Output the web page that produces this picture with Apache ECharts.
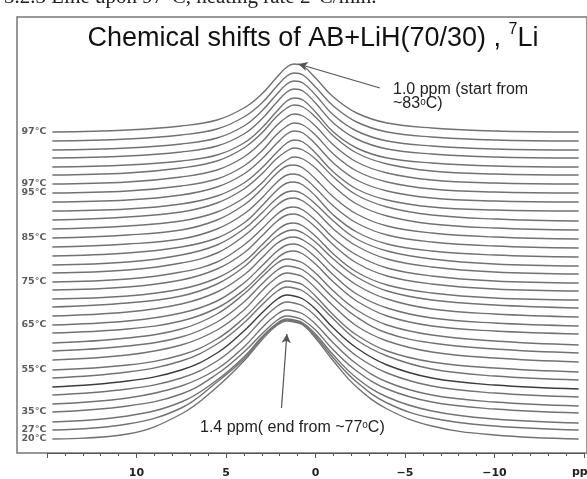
<!DOCTYPE html>
<html>
<head>
<meta charset="utf-8">
<script src="https://cdn.jsdelivr.net/npm/echarts@6/dist/echarts.min.js"></script>
<style>
  html, body { margin: 0; padding: 0; background: #fff; }
  #main { width: 587px; height: 479px; }
</style>
</head>
<body>
<div id="main"></div>
<script>
// shared chemical shift grid (ppm), left to right
var ppm = [14.7, 10.5, 7.5, 5.5, 4, 3, 2.2, 1.6, 1.2, 0.7, 0, -1, -2.3, -4, -6.5, -10, -14.7];

// temperature tags at the left of some traces (top trace first)
var tempLabels = ['97°C', '', '', '', '', '', '97°C', '95°C', '', '', '', '', '85°C', '', '', '', '',
  '75°C', '', '', '', '', '65°C', '', '', '', '', '55°C', '', '', '', '', '35°C', '', '27°C', '20°C'];

// vertical offset of each trace (stack position), top trace first
var offsets = [321, 312, 303, 295, 286, 278, 269, 260, 251, 242, 233, 224, 215, 206, 197, 188, 180, 171,
  163, 154, 146, 137, 128, 120, 110, 102, 93, 83, 75, 66, 58, 49, 41, 31, 23, 14];

// intensity of each trace above its offset, one row per trace, read at the ppm grid
var intensity = [
  [0, 2, 6, 12, 24, 38, 54, 65, 68, 66, 54, 35, 19, 9, 4, 1, 0],
  [0, 2, 6, 12, 24, 38, 54, 65, 68, 66, 54, 35, 19, 9, 4, 1, 0],
  [0, 2, 6, 12, 24, 39, 55, 66, 69, 67, 55, 35, 19, 9, 4, 1, 0],
  [0, 2, 6, 12, 24, 39, 55, 66, 69, 67, 55, 35, 19, 9, 4, 1, 0],
  [0, 2, 6, 12, 24, 39, 55, 66, 69, 67, 55, 35, 19, 9, 4, 1, 0],
  [0, 2, 7, 14, 27, 42, 58, 67, 70, 68, 58, 39, 22, 11, 4, 1, 0],
  [0, 2, 7, 14, 27, 42, 58, 67, 70, 68, 58, 39, 22, 11, 4, 1, 0],
  [0, 2, 7, 14, 27, 42, 58, 67, 70, 68, 58, 39, 22, 11, 4, 1, 0],
  [0, 2, 7, 15, 28, 43, 58, 68, 71, 69, 58, 39, 22, 11, 4, 1, 0],
  [0, 2, 7, 15, 28, 43, 58, 68, 71, 69, 58, 39, 22, 11, 4, 1, 0],
  [0, 3, 8, 17, 31, 46, 61, 69, 72, 70, 61, 43, 25, 13, 5, 1, -1],
  [0, 3, 8, 17, 31, 46, 61, 69, 72, 70, 61, 43, 25, 13, 5, 1, -1],
  [0, 3, 8, 18, 33, 49, 64, 72, 73, 70, 59, 41, 24, 12, 5, 1, -1],
  [0, 3, 8, 18, 33, 49, 64, 72, 73, 70, 59, 41, 24, 12, 5, 1, -1],
  [0, 3, 9, 18, 33, 50, 65, 73, 74, 71, 60, 41, 24, 12, 5, 1, -1],
  [0, 3, 10, 20, 36, 52, 66, 73, 74, 71, 61, 44, 26, 14, 6, 1, -1],
  [0, 3, 10, 20, 37, 53, 67, 74, 75, 72, 62, 44, 27, 14, 6, 1, -1],
  [0, 3, 10, 20, 37, 53, 67, 74, 75, 72, 62, 44, 27, 14, 6, 1, -1],
  [0, 3, 10, 21, 37, 54, 68, 75, 76, 73, 63, 45, 27, 14, 6, 1, -1],
  [0, 3, 10, 21, 37, 54, 68, 75, 76, 73, 63, 45, 27, 14, 6, 1, -1],
  [0, 4, 11, 23, 40, 57, 70, 76, 77, 74, 65, 48, 30, 16, 7, 2, -1],
  [0, 4, 12, 24, 41, 58, 72, 78, 79, 76, 67, 49, 31, 17, 7, 2, -1],
  [0, 4, 12, 24, 42, 59, 73, 80, 81, 78, 68, 50, 31, 17, 7, 2, -1],
  [0, 4, 12, 25, 43, 60, 74, 81, 82, 79, 69, 51, 32, 17, 7, 2, -1],
  [0, 5, 14, 29, 49, 66, 79, 84, 83, 80, 70, 52, 33, 18, 8, 2, -2],
  [0, 5, 14, 29, 49, 67, 80, 85, 84, 81, 71, 53, 34, 18, 8, 2, -2],
  [0, 5, 15, 30, 50, 69, 82, 87, 86, 83, 72, 54, 34, 19, 8, 2, -2],
  [0, 5, 15, 31, 52, 70, 84, 89, 88, 85, 74, 55, 35, 19, 8, 2, -2],
  [0, 6, 17, 34, 55, 73, 86, 91, 90, 87, 77, 59, 38, 22, 9, 2, -2],
  [0, 6, 17, 34, 56, 74, 87, 92, 91, 88, 78, 59, 39, 22, 9, 2, -2],
  [0, 6, 17, 34, 56, 75, 88, 93, 92, 89, 79, 60, 39, 22, 9, 2, -2],
  [0, 6, 18, 35, 57, 76, 89, 94, 93, 90, 80, 61, 40, 22, 9, 2, -2],
  [0, 6, 18, 38, 60, 78, 91, 96, 95, 92, 82, 62, 41, 23, 10, 3, -1],
  [0, 6, 20, 42, 65, 85, 98, 103, 102, 99, 88, 67, 44, 25, 11, 3, -1],
  [0, 6, 22, 48, 71, 92, 105, 110, 109, 106, 94, 72, 48, 27, 12, 4, 0],
  [0, 5, 25, 52, 78, 99, 113, 118, 117, 114, 101, 78, 52, 30, 13, 4, 0]
];

var darkTrace = 29;

var chart = echarts.init(document.getElementById('main'));

var series = [];
for (var j = 0; j < offsets.length; j++) {
  var pts = [];
  for (var k = 0; k < ppm.length; k++) {
    pts.push([ppm[k], offsets[j] + intensity[j][k]]);
  }
  series.push({
    type: 'line',
    data: pts,
    smooth: 0.4,
    showSymbol: false,
    silent: true,
    lineStyle: { color: j === darkTrace ? '#3c3c3c' : '#727272', width: 1.4 },
    z: 2
  });
}

// temperature tags, sitting at the start of their trace
var tagData = [];
tempLabels.forEach(function (t, j) {
  if (t) tagData.push({ value: [ppm[0], offsets[j]], name: t });
});
series.push({
  type: 'scatter',
  data: tagData,
  symbolSize: 0,
  silent: true,
  label: {
    show: true,
    position: 'left',
    distance: 6,
    formatter: '{b}',
    color: '#333',
    fontFamily: 'DejaVu Sans',
    fontWeight: 'bold',
    fontSize: 9.5
  },
  markLine: {
    silent: true,
    symbol: ['none', 'arrow'],
    symbolSize: [7, 9],
    label: { show: false },
    lineStyle: { color: '#555', width: 1.2, type: 'solid' },
    data: [
      [{ coord: [-3.6, 365] }, { coord: [0.95, 389] }],
      [{ coord: [1.9, 45] }, { coord: [1.6, 119] }]
    ]
  },
  z: 3
});

var option = {
  animation: false,
  backgroundColor: '#fff',
  grid: [
    { left: 47, right: -6, top: 17, bottom: 26 },
    { left: 17, right: -5, top: 17, bottom: 26, show: true, borderColor: '#777', borderWidth: 1.5 }
  ],
  xAxis: [
    {
      type: 'value',
      gridIndex: 0,
      min: -15,
      max: 15,
      interval: 5,
      inverse: true,
      offset: 9,
      axisLine: { show: true, lineStyle: { color: '#555', width: 1 } },
      axisTick: { show: true, length: 5, lineStyle: { color: '#555' } },
      minorTick: { show: true, splitNumber: 5, length: 3, lineStyle: { color: '#555' } },
      splitLine: { show: false },
      axisLabel: {
        margin: 6,
        color: '#222',
        fontFamily: 'DejaVu Sans',
        fontWeight: 'bold',
        fontSize: 11,
        formatter: function (v) {
          if (Math.abs(v) === 15) return '';
          return v < 0 ? '\u2212' + Math.abs(v) : String(v);
        }
      }
    },
    { type: 'value', gridIndex: 1, show: false }
  ],
  yAxis: [
    { type: 'value', gridIndex: 0, min: 0, max: 436, show: false },
    { type: 'value', gridIndex: 1, show: false }
  ],
  graphic: [
    {
      type: 'text', left: 4, top: -13,
      style: { text: '3.2.3 Line upon 97°C, heating rate 2°C/min.', font: '21px "Liberation Serif"', fill: '#222' }
    },
    {
      type: 'text', x: 313, y: 37,
      style: {
        text: '{t|Chemical shifts of AB+LiH(70/30) , }{s|7}{t|Li}',
        align: 'center', verticalAlign: 'middle',
        rich: {
          t: { fontFamily: 'Liberation Sans', fontSize: 27, fill: '#111', lineHeight: 31, verticalAlign: 'bottom' },
          s: { fontFamily: 'Liberation Sans', fontSize: 16, fill: '#111', lineHeight: 31, verticalAlign: 'top' }
        }
      }
    },
    {
      type: 'text', x: 393, y: 83,
      style: {
        text: '1.0 ppm (start from\n~83{o|o}C)',
        font: '16px "Liberation Sans"', fill: '#222', lineHeight: 14,
        rich: { o: { fontSize: 10, verticalAlign: 'top', fill: '#222' } }
      }
    },
    {
      type: 'text', x: 200, y: 420,
      style: {
        text: '1.4 ppm( end from ~77{o|o}C)',
        font: '16px "Liberation Sans"', fill: '#222',
        rich: { o: { fontSize: 10, verticalAlign: 'top', fill: '#222' } }
      }
    },
    {
      type: 'text', x: 572, y: 467,
      style: { text: 'ppm', font: 'bold 11px "DejaVu Sans"', fill: '#222' }
    }
  ],
  series: series
};

chart.setOption(option);
</script>
</body>
</html>
